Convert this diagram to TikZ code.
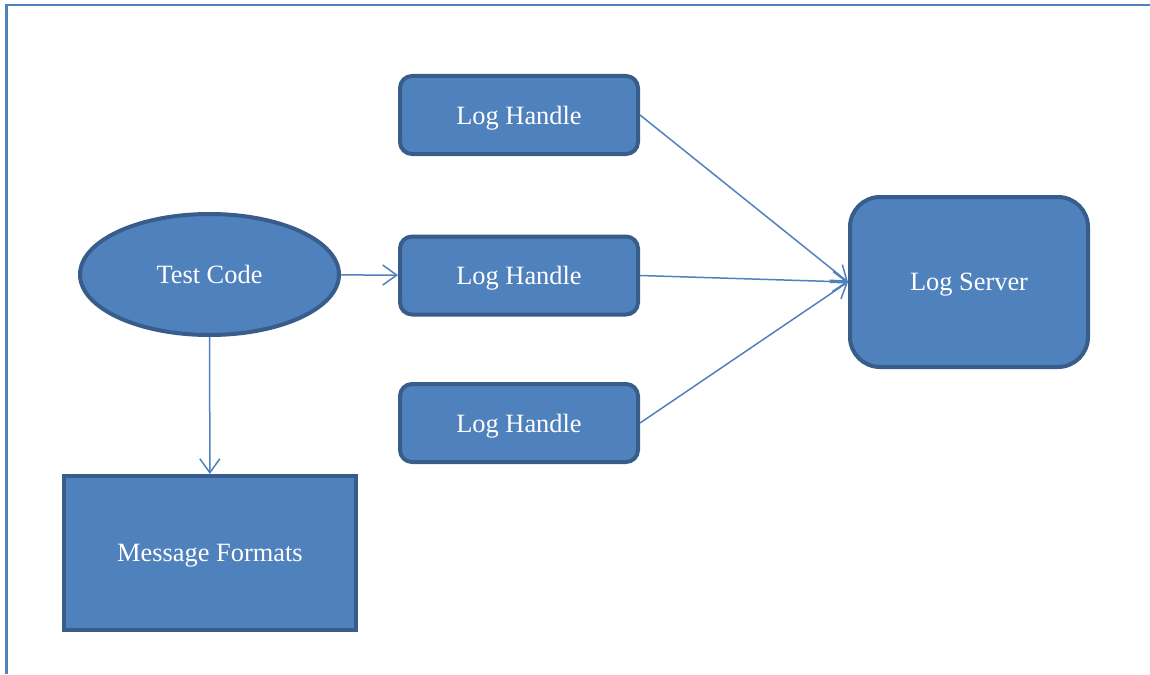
\documentclass[tikz,border=0pt]{standalone}
\usepackage{fontspec}
\setmainfont{Liberation Serif}
\usetikzlibrary{arrows.meta,shapes.geometric}
\definecolor{boxfill}{HTML}{4F81BD}
\definecolor{boxline}{HTML}{385D8A}

\begin{document}
\begin{tikzpicture}[x=0.5pt,y=-0.5pt,->,>={Straight Barb[length=7pt,width=10pt]},
      line width=0.75pt,draw=boxfill,
      box/.style={rectangle,draw=boxline,fill=boxfill,line width=2pt,text=white,
        font=\fontsize{13.2}{15}\selectfont,inner sep=0pt,text depth=0pt},
      handle/.style={box,rounded corners=6pt,minimum width=119pt,minimum height=39pt}]
      \useasboundingbox (0,0) rectangle (1150,674);
      \draw[-,line width=1.25pt] (1150,5) -- (6.5,5) -- (6.5,674);

      \node[box,ellipse,minimum width=129.5pt,minimum height=60.5pt] (tc) at (209.5,274.5) {Test Code};
      \node[box,minimum width=146pt,minimum height=77pt] (mf) at (210,553) {Message Formats};
      \node[handle] (h1) at (519,115) {Log Handle};
      \node[handle] (h2) at (519,275.5) {Log Handle};
      \node[handle] (h3) at (519,423) {Log Handle};
      \node[box,rounded corners=15pt,minimum width=119pt,minimum height=85pt] (ls) at (969,282) {Log Server};

      \path
      (tc) edge (h2)
      (tc) edge (mf)
      (h1.east) edge (ls.west)
      (h2.east) edge (ls.west)
      (h3.east) edge (ls.west)
      ;
\end{tikzpicture}
\end{document}
